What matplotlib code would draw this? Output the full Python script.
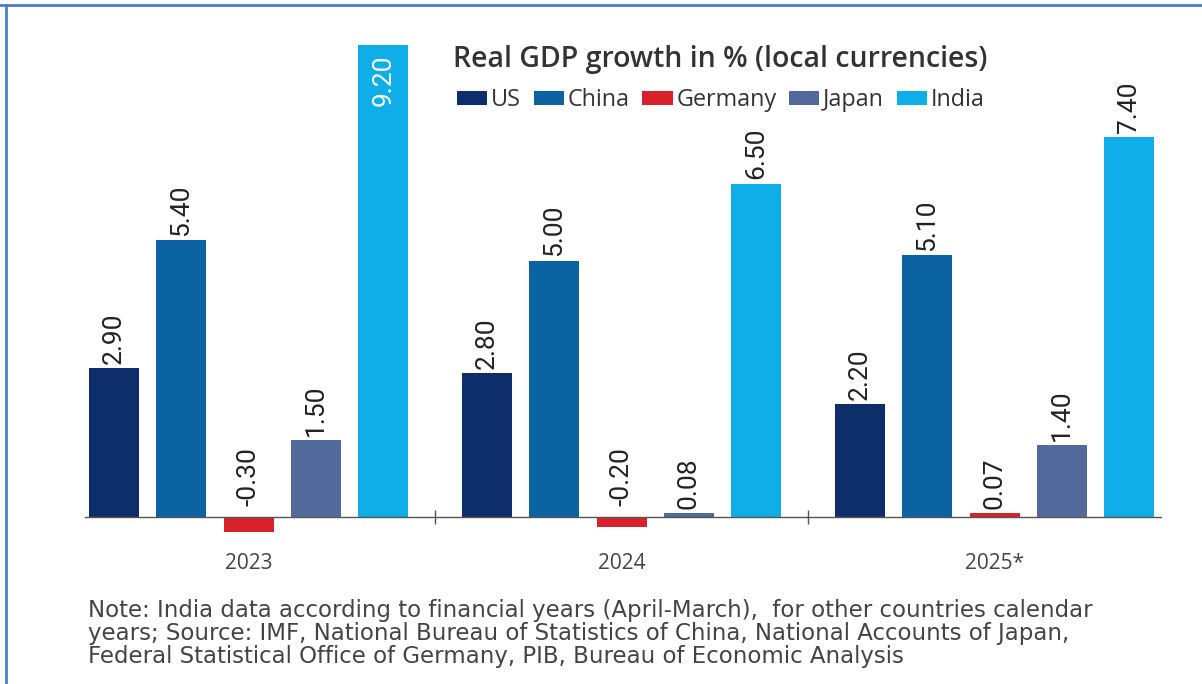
import matplotlib
matplotlib.use("Agg")
import matplotlib.pyplot as plt
import numpy as np

# Real GDP growth in % by country and year
years = ["2023", "2024", "2025*"]
countries = ["US", "China", "Germany", "Japan", "India"]
us = [2.90, 2.80, 2.20]
china = [5.40, 5.00, 5.10]
germany = [-0.30, -0.20, 0.07]
japan = [1.50, 0.08, 1.40]
india = [9.20, 6.50, 7.40]
colors = ["#0d2e6b", "#0b64a1", "#d8222b", "#52699b", "#10aee8"]

series = [us, china, germany, japan, india]
gap = 5.54          # distance between year groups, in bar slots
centers = np.arange(len(years)) * gap

W, H = 1202, 684
fig = plt.figure(figsize=(W / 100, H / 100), dpi=100)
fig.patch.set_facecolor("white")
ax = fig.add_axes([85 / W, 1 - 540 / H, (1161 - 85) / W, 500 / H])

label_font = ["Roboto", "DejaVu Sans"]
sans = ["Open Sans", "DejaVu Sans"]

for j, (vals, name, col) in enumerate(zip(series, countries, colors)):
    xs = centers + (j - 2)
    ax.bar(xs, vals, width=0.74, color=col, label=name, zorder=2)
    for x, v in zip(xs, vals):
        txt = f"{v:.2f}"
        if v > 8:
            # tall bar: label sits inside near the top
            ax.annotate(txt, (x, v), xytext=(0, -7), textcoords="offset points",
                        rotation=90, ha="center", va="top", color="white",
                        fontsize=19, family=label_font)
        else:
            ax.annotate(txt, (x, max(v, 0)), xytext=(0, 3 if v > 0 else 8),
                        textcoords="offset points", rotation=90, ha="center",
                        va="bottom", color="#222222", fontsize=19, family=label_font)

ax.set_xlim(-2.43, centers[-1] + 2.47)
ax.set_ylim(-0.45, 9.3)
for s in ["top", "right", "left"]:
    ax.spines[s].set_visible(False)
ax.spines["bottom"].set_position(("data", 0))
ax.spines["bottom"].set_color("#555555")
ax.spines["bottom"].set_linewidth(1.0)
ax.set_yticks([])
ax.set_xticks(centers)
ax.set_xticklabels(years, fontsize=15, color="#444444", family=sans)
ax.tick_params(axis="x", which="major", length=0, pad=26)
ax.set_xticks(centers[:-1] + gap / 2, minor=True)
ax.tick_params(axis="x", which="minor", length=10, direction="inout", color="#555555", width=1)

renderer = fig.canvas.get_renderer()


def fit_width(t, right_px, shrink=1.0):
    # grow or shrink a text so that its right edge lands at right_px
    bb = t.get_window_extent(renderer)
    t.set_fontsize(t.get_fontsize() * (right_px - bb.x0) / bb.width * shrink)


title = fig.text(453 / W, 1 - 60 / H, "Real GDP growth in % (local currencies)",
                 fontsize=20, fontweight="semibold", color="#333333",
                 family=sans, va="center", ha="left")
fit_width(title, 987)

ax.legend(loc="center left", bbox_to_anchor=(457 / W, 1 - 100 / H),
          bbox_transform=fig.transFigure, ncol=5, frameon=False,
          handlelength=1.3, handleheight=0.55, handletextpad=0.15,
          columnspacing=0.55, borderaxespad=0, borderpad=0,
          prop={"family": sans, "size": 16.8},
          labelcolor="#333333")

note_lines = ["Note: India data according to financial years (April-March),  for other countries calendar",
              "years; Source: IMF, National Bureau of Statistics of China, National Accounts of Japan,",
              "Federal Statistical Office of Germany, PIB, Bureau of Economic Analysis"]
first = fig.text(88 / W, 1 - 617 / H, note_lines[0], fontsize=14, color="#444444",
                 family=["DejaVu Sans"], va="baseline", ha="left")
fit_width(first, 1150, shrink=0.95)
for k, line in enumerate(note_lines[1:], start=1):
    fig.text(88 / W, 1 - (617 + 23 * k) / H, line, fontsize=first.get_fontsize(),
             color="#444444", family=["DejaVu Sans"], va="baseline", ha="left")

# blue frame along the top and left edges
fig.add_artist(plt.Line2D([0, 1], [1 - 4.5 / H] * 2, transform=fig.transFigure,
                          color="#4a7fc4", lw=2))
fig.add_artist(plt.Line2D([6 / W] * 2, [0, 1 - 4.5 / H], transform=fig.transFigure,
                          color="#4a7fc4", lw=2))

fig.savefig("out.png", dpi=100, facecolor="white")
